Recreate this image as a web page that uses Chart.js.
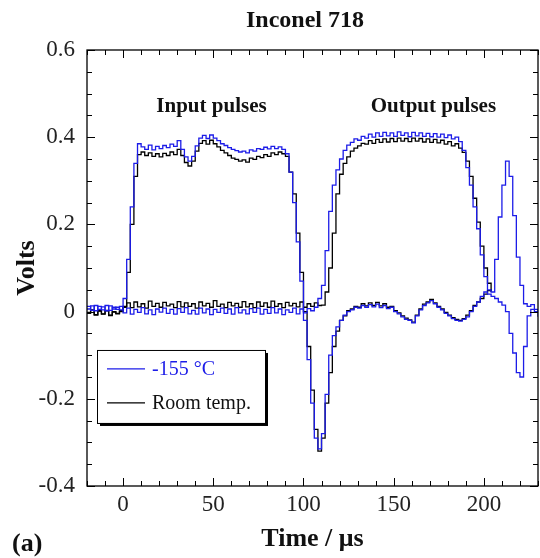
<!DOCTYPE html>
<html>
<head>
<meta charset="utf-8">
<script src="https://cdn.jsdelivr.net/npm/chart.js@4.4.0/dist/chart.umd.min.js"></script>
<style>
  html, body { margin: 0; padding: 0; background: #fff; }
  #wrap { width: 540px; height: 558px; }
</style>
</head>
<body>
<div id="wrap"><canvas id="pulseChart"></canvas></div>
<script>
// time axis (µs), one sample every 2 µs
const timeUs = [
  -20, -18, -16, -14, -12, -10, -8, -6, -4, -2,
  0, 2, 4, 6, 8, 10, 12, 14, 16, 18,
  20, 22, 24, 26, 28, 30, 32, 34, 36, 38,
  40, 42, 44, 46, 48, 50, 52, 54, 56, 58,
  60, 62, 64, 66, 68, 70, 72, 74, 76, 78,
  80, 82, 84, 86, 88, 90, 92, 94, 96, 98,
  100, 102, 104, 106, 108, 110, 112, 114, 116, 118,
  120, 122, 124, 126, 128, 130, 132, 134, 136, 138,
  140, 142, 144, 146, 148, 150, 152, 154, 156, 158,
  160, 162, 164, 166, 168, 170, 172, 174, 176, 178,
  180, 182, 184, 186, 188, 190, 192, 194, 196, 198,
  200, 202, 204, 206, 208, 210, 212, 214, 216, 218,
  220, 222, 224, 226, 228, 230
];

// -155 °C, input transducer
const coldInput = [
  0.012, 0.003, 0.014, 0.005, 0.011, 0.002, 0.013, 0.006, 0.010, 0.004,
  0.03, 0.12, 0.24, 0.34, 0.385, 0.378, 0.372, 0.382, 0.371, 0.379,
  0.374, 0.381, 0.376, 0.384, 0.379, 0.392, 0.372, 0.355, 0.345, 0.356,
  0.380, 0.398, 0.404, 0.397, 0.405, 0.398, 0.392, 0.385, 0.381, 0.376,
  0.372, 0.369, 0.366, 0.368, 0.364, 0.371, 0.368, 0.374, 0.372, 0.377,
  0.373, 0.379, 0.374, 0.378, 0.372, 0.362, 0.32, 0.25, 0.16, 0.07,
  -0.02, -0.11, -0.21, -0.29, -0.315, -0.28, -0.19, -0.10, -0.055, -0.035,
  -0.02, -0.008, 0.0, 0.004, 0.01, 0.008, 0.014, 0.01, 0.016, 0.011,
  0.017, 0.009, 0.014, 0.007, 0.01, 0.0, -0.005, -0.012, -0.018, -0.02,
  -0.026, -0.01, 0.004, 0.014, 0.02, 0.025, 0.018, 0.01, 0.004, -0.004,
  -0.01, -0.016, -0.02, -0.022, -0.018, -0.012, 0.0, 0.012, 0.022, 0.035,
  0.045, 0.04, 0.035, 0.03, 0.022, 0.015, 0.0, -0.05, -0.095, -0.14,
  -0.15, -0.08, -0.01, 0.005, 0.0, 0.002
];

// -155 °C, output transducer
const coldOutput = [
  0.006, 0.013, 0.002, 0.012, 0.004, 0.014, 0.003, 0.01, 0.005, 0.012,
  -0.003, 0.008, -0.006, 0.005, -0.002, 0.009, -0.005, 0.004, -0.007, 0.006,
  -0.001, 0.008, -0.004, 0.005, -0.006, 0.007, -0.002, 0.009, -0.005, 0.003,
  -0.006, 0.008, -0.003, 0.006, -0.007, 0.005, -0.002, 0.008, -0.004, 0.006,
  -0.006, 0.009, -0.003, 0.004, -0.005, 0.007, -0.002, 0.008, -0.006, 0.005,
  -0.004, 0.009, -0.003, 0.006, -0.007, 0.004, -0.002, 0.008, -0.005, 0.006,
  -0.003, 0.007, 0.002, 0.01, 0.03, 0.06, 0.14, 0.23, 0.29, 0.325,
  0.35, 0.37, 0.382, 0.388, 0.396, 0.393, 0.402, 0.398, 0.407, 0.4,
  0.41, 0.402, 0.411, 0.403, 0.41, 0.402, 0.412, 0.404, 0.41, 0.401,
  0.411, 0.403, 0.41, 0.402, 0.409, 0.401, 0.408, 0.4, 0.407, 0.399,
  0.405, 0.396, 0.4, 0.39, 0.37, 0.33, 0.29, 0.24, 0.19, 0.13,
  0.08, 0.05, 0.045, 0.12, 0.217, 0.29, 0.345, 0.31, 0.22, 0.125,
  0.06, 0.018, 0.012, 0.016, 0.005, -0.012
];

// room temperature, input transducer (trace stops at 204 µs)
const roomInput = [
  -0.004, 0.003, -0.008, 0.001, -0.006, 0.002, -0.009, -0.001, -0.005, 0.0,
  0.01, 0.09, 0.20, 0.31, 0.36, 0.366, 0.358, 0.364, 0.356, 0.362,
  0.355, 0.363, 0.358, 0.366, 0.36, 0.372, 0.358, 0.342, 0.334, 0.345,
  0.368, 0.386, 0.392, 0.384, 0.393, 0.385, 0.378, 0.37, 0.364, 0.358,
  0.352, 0.349, 0.345, 0.348, 0.343, 0.352, 0.349, 0.356, 0.353, 0.36,
  0.356, 0.364, 0.36, 0.366, 0.362, 0.356, 0.32, 0.27, 0.18, 0.09,
  0.0, -0.08, -0.18, -0.27, -0.32, -0.29, -0.21, -0.14, -0.08, -0.045,
  -0.02, -0.01, 0.002, 0.006, 0.012, 0.01, 0.018, 0.013, 0.02, 0.014,
  0.021, 0.013, 0.018, 0.01, 0.012, 0.002, -0.003, -0.01, -0.015, -0.019,
  -0.024, -0.008, 0.006, 0.017, 0.022, 0.028, 0.02, 0.012, 0.006, -0.002,
  -0.008, -0.014, -0.018, -0.02, -0.016, -0.008, 0.002, 0.014, 0.022, 0.03,
  0.04, 0.048, 0.052
];

// room temperature, output transducer (trace stops at 204 µs)
const roomOutput = [
  -0.002, 0.004, -0.007, 0.002, -0.005, 0.003, -0.008, 0.0, -0.004, 0.002,
  0.012, 0.02, 0.009, 0.022, 0.011, 0.018, 0.008, 0.024, 0.012, 0.019,
  0.01, 0.021, 0.013, 0.017, 0.009, 0.023, 0.011, 0.02, 0.012, 0.018,
  0.008, 0.022, 0.013, 0.019, 0.01, 0.025, 0.012, 0.017, 0.009, 0.021,
  0.013, 0.019, 0.01, 0.023, 0.011, 0.018, 0.009, 0.022, 0.012, 0.02,
  0.01, 0.024, 0.012, 0.018, 0.009, 0.021, 0.013, 0.019, 0.011, 0.022,
  0.01, 0.018, 0.012, 0.02, 0.014, 0.015, 0.045, 0.10, 0.18, 0.27,
  0.315, 0.34, 0.355, 0.368, 0.375, 0.38, 0.386, 0.384, 0.392, 0.386,
  0.395, 0.388, 0.396, 0.389, 0.397, 0.39, 0.398, 0.391, 0.397, 0.39,
  0.398, 0.391, 0.397, 0.389, 0.396, 0.388, 0.395, 0.387, 0.393, 0.384,
  0.39, 0.38, 0.385, 0.375, 0.365, 0.345, 0.31, 0.26, 0.205, 0.15,
  0.10, 0.065, 0.045
];

const xTickValues = [0, 50, 100, 150, 200];
const yTickValues = [-0.4, -0.2, 0, 0.2, 0.4, 0.6];
const seriesNames = ["-155 °C", "Room temp."];

const BLUE = "#1c1ce8";
const SERIF = '"Liberation Serif", "Times New Roman", serif';

function toPoints(values) {
  return values.map((v, i) => ({ x: timeUs[i], y: v }));
}

function traceStyle(color) {
  return {
    borderColor: color,
    backgroundColor: color,
    borderWidth: 1.3,
    pointRadius: 0,
    stepped: true,
    fill: false
  };
}

// frame, inward ticks on all four sides, texts and the boxed legend
const decorations = {
  id: "decorations",
  afterDraw(chart) {
    const { ctx, chartArea: ca, scales } = chart;
    const xs = scales.x, ys = scales.y;
    ctx.save();

    ctx.strokeStyle = "#000";
    ctx.lineWidth = 1.3;
    ctx.strokeRect(ca.left, ca.top, ca.right - ca.left, ca.bottom - ca.top);

    ctx.lineWidth = 1;
    ctx.beginPath();
    for (let v = xs.min; v <= xs.max + 1e-6; v += 10) {
      const px = Math.round(xs.getPixelForValue(v)) + 0.5;
      const len = xTickValues.includes(v) ? 8 : 5;
      ctx.moveTo(px, ca.bottom); ctx.lineTo(px, ca.bottom - len);
      ctx.moveTo(px, ca.top); ctx.lineTo(px, ca.top + len);
    }
    for (let k = 0; k <= 20; k++) {
      const v = ys.min + k * 0.05;
      const py = Math.round(ys.getPixelForValue(v)) + 0.5;
      const len = k % 4 === 0 ? 8 : 5;
      ctx.moveTo(ca.left, py); ctx.lineTo(ca.left + len, py);
      ctx.moveTo(ca.right, py); ctx.lineTo(ca.right - len, py);
    }
    ctx.stroke();

    // title and labels
    ctx.fillStyle = "#111";
    ctx.textAlign = "center";
    ctx.textBaseline = "middle";
    ctx.font = "bold 24px " + SERIF;
    ctx.fillText("Inconel 718", 305, 21);

    ctx.font = "bold 21px " + SERIF;
    ctx.fillText("Input pulses", xs.getPixelForValue(49), ys.getPixelForValue(0.47));
    ctx.fillText("Output pulses", xs.getPixelForValue(172), ys.getPixelForValue(0.47));

    ctx.font = "bold 26px " + SERIF;
    ctx.textAlign = "left";
    ctx.fillText("(a)", 12, 544);

    // legend box with drop shadow
    const bx = ca.left + 10, by = ys.getPixelForValue(-0.088);
    const bw = 168, bh = 73;
    ctx.fillStyle = "#000";
    ctx.fillRect(bx + 3, by + 3, bw, bh);
    ctx.fillStyle = "#fff";
    ctx.fillRect(bx, by, bw, bh);
    ctx.lineWidth = 1;
    ctx.strokeRect(bx + 0.5, by + 0.5, bw, bh);

    const shown = chart.data.datasets.filter(d => d.inLegend);
    ctx.font = "20px " + SERIF;
    ctx.textAlign = "left";
    shown.forEach((d, i) => {
      const ly = by + 19 + i * 34;
      ctx.strokeStyle = d.borderColor;
      ctx.lineWidth = 1.3;
      ctx.beginPath();
      ctx.moveTo(bx + 10, ly); ctx.lineTo(bx + 48, ly);
      ctx.stroke();
      ctx.fillStyle = d.borderColor === BLUE ? BLUE : "#111";
      ctx.fillText(d.label, bx + 55, ly + 1);
    });

    ctx.restore();
  }
};

const canvas = document.getElementById("pulseChart");
new Chart(canvas.getContext("2d"), {
  type: "line",
  data: {
    datasets: [
      { label: seriesNames[0], data: toPoints(coldInput), inLegend: true, ...traceStyle(BLUE) },
      { label: seriesNames[0], data: toPoints(coldOutput), ...traceStyle(BLUE) },
      { label: seriesNames[1], data: toPoints(roomInput), inLegend: true, ...traceStyle("#000") },
      { label: seriesNames[1], data: toPoints(roomOutput), ...traceStyle("#000") }
    ]
  },
  options: {
    responsive: true,
    maintainAspectRatio: false,
    animation: false,
    layout: { padding: { top: 50, right: 2, left: 0, bottom: 0 } },
    plugins: {
      legend: { display: false },
      title: { display: false },
      tooltip: { enabled: false }
    },
    scales: {
      x: {
        type: "linear",
        min: -20,
        max: 230,
        grid: { display: false, drawTicks: false },
        border: { display: false },
        afterBuildTicks: (scale) => { scale.ticks = xTickValues.map(v => ({ value: v })); },
        afterFit: (scale) => { scale.height = 72; },
        ticks: {
          padding: 5,
          color: "#222",
          font: { family: SERIF, size: 23 },
          callback: (v) => String(v)
        },
        title: {
          display: true,
          text: "Time / μs",
          color: "#111",
          font: { family: SERIF, size: 26, weight: "bold" },
          padding: { top: 0, bottom: 3 }
        }
      },
      y: {
        min: -0.4,
        max: 0.6,
        grid: { display: false, drawTicks: false },
        border: { display: false },
        afterBuildTicks: (scale) => { scale.ticks = yTickValues.map(v => ({ value: v })); },
        afterFit: (scale) => { scale.width = 87; },
        ticks: {
          padding: 12,
          color: "#222",
          font: { family: SERIF, size: 23 },
          callback: (v) => String(Number(v.toFixed(1)))
        },
        title: {
          display: true,
          text: "Volts",
          color: "#111",
          font: { family: SERIF, size: 26, weight: "bold" },
          padding: { top: 12, bottom: 0 }
        }
      }
    }
  },
  plugins: [decorations]
});
</script>
</body>
</html>
